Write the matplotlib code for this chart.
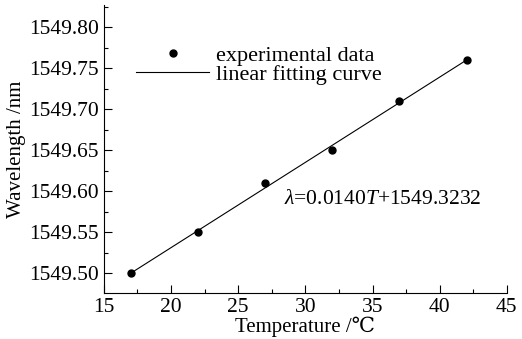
import matplotlib

matplotlib.use("Agg")
import matplotlib.pyplot as plt
import numpy as np
from matplotlib.ticker import MultipleLocator

temperature = [17, 22, 27, 32, 37, 42]
wavelength = [1549.50, 1549.55, 1549.61, 1549.65, 1549.71, 1549.76]
x_ticks = [15, 20, 25, 30, 35, 40, 45]
y_ticks = [1549.50, 1549.55, 1549.60, 1549.65, 1549.70, 1549.75, 1549.80]

plt.rcParams["font.family"] = ["Liberation Serif", "DejaVu Serif"]
plt.rcParams["mathtext.fontset"] = "custom"
plt.rcParams["mathtext.rm"] = "Liberation Serif"
plt.rcParams["mathtext.it"] = "Liberation Serif:italic"

fig = plt.figure(figsize=(5.22, 3.39), dpi=100)
ax = fig.add_axes([0.199, 0.136, 0.772, 0.849])

# linear fit through the measured points
k, b = np.polyfit(temperature, wavelength, 1)
t_fit = np.array([temperature[0], temperature[-1]])
ax.plot(t_fit, k * t_fit + b, color="black", lw=0.8, label="linear fitting curve")
ax.plot(temperature, wavelength, "o", color="black", ms=5, ls="none",
        label="experimental data")

ax.set_xlim(15, 45)
ax.set_ylim(1549.476, 1549.827)
ax.set_xticks(x_ticks)
ax.set_yticks(y_ticks)
ax.set_yticklabels([f"{v:.2f}" for v in y_ticks])
ax.xaxis.set_minor_locator(MultipleLocator(2.5))
ax.yaxis.set_minor_locator(MultipleLocator(0.025))
ax.tick_params(which="both", direction="in", labelsize=15.5, width=0.8)
ax.tick_params(which="major", length=6)
ax.tick_params(which="minor", length=3)
for s in ("top", "right"):
    ax.spines[s].set_visible(False)

ax.set_xlabel("Temperature /℃", fontsize=15, labelpad=0)
ax.set_ylabel("Wavelength /nm", fontsize=15, labelpad=2)

h, l = ax.get_legend_handles_labels()
ax.legend(h[::-1], l[::-1], loc="upper left", bbox_to_anchor=(0.03, 0.93),
          frameon=False, fontsize=16, handlelength=3.3, handletextpad=0.3,
          labelspacing=-0.05)

ax.text(0.448, 0.31, r"$\mathit{\lambda}$=0.0140$\mathit{T}$+1549.3232",
        transform=ax.transAxes, fontsize=15.5)

fig.savefig("out.png", dpi=100)
